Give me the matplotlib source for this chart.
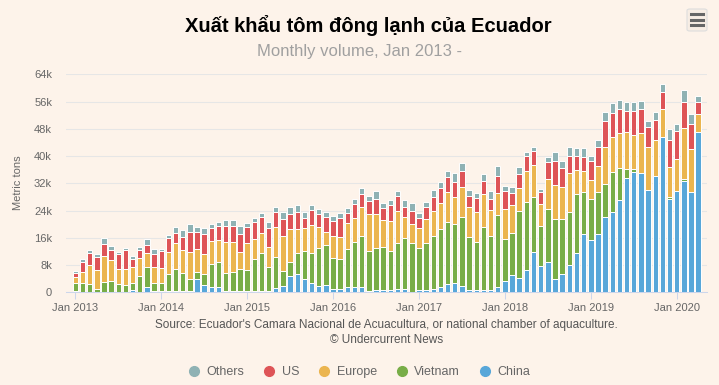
import matplotlib
matplotlib.use("Agg")
import matplotlib.pyplot as plt
from matplotlib.lines import Line2D
from matplotlib.patches import FancyBboxPatch
import numpy as np

plt.rcParams['font.family'] = ['Liberation Sans', 'DejaVu Sans']

# monthly volume, thousand metric tons, Jan 2013 .. Apr 2020
china = [0.4, 0.2, 0.2, 0.1, 0.2, 0.0, 0.0, 0.0, 0.6, 0.2, 1.7, 0.3,
         0.3, 0.3, 0.5, 0.3, 0.3, 4.0, 2.0, 1.6, 1.6, 0.3, 0.3, 0.3,
         0.3, 0.3, 0.3, 0.3, 1.2, 1.9, 4.7, 5.3, 4.0, 2.6, 1.8, 2.0,
         0.9, 0.9, 1.6, 1.6, 1.6, 0.3, 0.7, 0.7, 0.6, 0.9, 0.9, 0.2,
         0.8, 0.6, 0.9, 1.5, 2.3, 2.8, 1.9, 0.8, 0.8, 0.8, 0.8, 1.5,
         3.2, 5.0, 4.3, 6.5, 11.9, 7.6, 9.0, 3.8, 5.4, 7.9, 11.4, 17.2,
         15.3, 17.1, 22.0, 23.5, 27.2, 33.6, 35.4, 34.9, 30.1, 34.2, 45.5, 27.3,
         29.6, 32.6, 29.5, 47.0]
vietnam = [2.2, 2.4, 2.1, 0.8, 2.7, 3.4, 2.3, 2.0, 2.0, 4.6, 5.8, 2.5,
           2.5, 5.0, 6.4, 5.3, 3.5, 1.9, 3.3, 6.7, 7.2, 5.4, 5.6, 6.4,
           6.1, 9.6, 11.1, 7.1, 9.2, 4.3, 4.1, 6.1, 8.0, 9.0, 11.1, 11.9,
           9.3, 8.9, 11.0, 13.3, 14.8, 11.7, 12.2, 12.6, 11.6, 13.7, 15.1, 14.4,
           12.1, 14.0, 15.7, 17.2, 18.4, 17.2, 20.3, 15.5, 14.1, 18.3, 15.8, 21.1,
           12.4, 12.5, 19.7, 20.1, 16.0, 11.8, 15.4, 17.6, 16.2, 15.6, 17.4, 12.1,
           12.2, 12.3, 9.9, 11.9, 9.4, 2.5, 0.8, 0.0, 0.0, 0.0, 0.0, 0.7,
           0.0, 0.7, 0.0, 0.0]
europe = [1.8, 3.3, 5.7, 5.7, 7.7, 6.0, 4.5, 4.8, 4.9, 5.4, 4.1, 4.5,
          4.4, 6.6, 7.5, 6.7, 8.1, 6.7, 6.0, 6.8, 6.5, 9.2, 9.0, 5.0,
          8.0, 5.8, 6.1, 6.0, 8.9, 10.3, 9.7, 7.2, 6.8, 8.1, 6.2, 3.7,
          6.4, 6.4, 7.7, 6.8, 8.5, 10.9, 10.0, 8.0, 8.8, 9.3, 6.0, 5.4,
          5.9, 6.8, 7.3, 7.4, 8.7, 8.1, 8.8, 8.7, 8.6, 9.7, 7.6, 6.5,
          8.8, 8.0, 6.5, 8.9, 9.4, 6.6, 8.8, 10.0, 9.4, 11.4, 7.0, 6.2,
          5.6, 7.8, 10.7, 10.1, 10.1, 10.9, 9.9, 11.8, 12.5, 10.5, 8.4, 8.7,
          9.4, 14.8, 12.6, 5.3]
us = [1.4, 3.1, 3.4, 3.7, 3.7, 3.1, 4.5, 5.5, 2.3, 2.1, 2.4, 3.9,
      4.9, 3.9, 2.9, 3.9, 5.9, 5.1, 5.9, 3.9, 4.2, 4.7, 4.7, 5.4,
      4.7, 4.8, 4.5, 5.6, 4.2, 4.9, 4.4, 5.1, 2.9, 4.4, 3.8, 4.4,
      4.4, 5.5, 2.9, 4.1, 4.0, 3.9, 4.4, 3.4, 4.7, 4.5, 3.1, 4.0,
      3.1, 3.5, 4.2, 4.6, 4.4, 4.4, 4.7, 3.4, 4.1, 4.0, 3.1, 4.9,
      5.2, 3.6, 4.1, 4.4, 4.3, 3.4, 5.0, 7.1, 5.4, 5.1, 4.3, 4.3,
      5.5, 5.5, 7.6, 7.2, 7.2, 6.2, 7.0, 7.2, 5.8, 5.8, 5.0, 7.9,
      8.3, 7.9, 7.4, 3.5]
others = [0.5, 0.7, 0.9, 0.9, 1.6, 1.1, 0.5, 0.8, 1.0, 0.9, 1.5, 1.6,
          0.7, 1.0, 2.0, 2.0, 2.2, 1.4, 1.6, 1.0, 1.2, 1.5, 1.7, 2.3,
          1.3, 1.4, 1.4, 1.7, 1.4, 2.3, 2.2, 1.9, 1.8, 1.4, 1.5, 1.7,
          1.3, 1.5, 1.5, 1.5, 1.6, 1.4, 2.4, 1.6, 1.4, 1.4, 2.0, 2.3,
          1.3, 1.7, 1.9, 1.7, 1.9, 2.4, 2.4, 1.7, 1.5, 2.0, 2.3, 3.1,
          1.7, 1.9, 2.3, 1.4, 1.2, 1.0, 1.6, 2.6, 2.0, 2.8, 2.4, 2.7,
          1.5, 2.1, 2.8, 2.8, 2.7, 2.8, 2.7, 2.3, 2.0, 2.3, 2.3, 3.2,
          2.2, 3.5, 2.7, 1.7]

series_names = ['Others', 'US', 'Europe', 'Vietnam', 'China']
series_colors = {'Others': '#8fb2b4', 'US': '#de5457', 'Europe': '#ebb54f',
                 'Vietnam': '#78ad47', 'China': '#58a7d9'}
year_labels = ['Jan 2013', 'Jan 2014', 'Jan 2015', 'Jan 2016',
               'Jan 2017', 'Jan 2018', 'Jan 2019', 'Jan 2020']

bg = '#fdf3ea'
fig = plt.figure(figsize=(7.19, 3.85), dpi=100, facecolor=bg)
ax = fig.add_axes([0.0918, 0.2408, 0.8912, 0.5662])
ax.set_facecolor(bg)

x = np.arange(len(china))
bottom = np.zeros(len(china))
stack = [('China', china), ('Vietnam', vietnam), ('Europe', europe),
         ('US', us), ('Others', others)]
for name, vals in stack:
    vals = np.array(vals)
    ax.bar(x, vals, width=0.76, bottom=bottom, color=series_colors[name],
           edgecolor='white', linewidth=0.7, zorder=3)
    bottom += vals

ax.set_xlim(-1.3, 88.2)
ax.set_ylim(0, 64)
ax.set_yticks(np.arange(0, 65, 8))
ax.set_yticklabels(['0'] + [f'{v}k' for v in range(8, 65, 8)])
ax.set_xticks(np.arange(0, 85, 12))
ax.set_xticklabels(year_labels)
ax.grid(axis='y', color='#e6e6e6', linewidth=0.75, zorder=0)
ax.tick_params(axis='y', length=0, pad=10, labelsize=8, labelcolor='#666666')
ax.tick_params(axis='x', length=5, width=0.75, color='#ccd6eb', pad=3,
               labelsize=8, labelcolor='#666666')
for s in ['top', 'right', 'left']:
    ax.spines[s].set_visible(False)
ax.spines['bottom'].set_color('#ccd6eb')
ax.spines['bottom'].set_linewidth(0.75)

fig.text(0.025, 0.525, 'Metric tons', rotation=90, ha='center', va='center',
         fontsize=8, color='#666666')

fig.text(0.512, 0.935, 'Xuất khẩu tôm đông lạnh của Ecuador', ha='center',
         va='center', fontsize=14.5, fontweight='bold', color='#000000')
fig.text(0.5, 0.866, 'Monthly volume, Jan 2013 -', ha='center', va='center',
         fontsize=12, color='#a0a0a0')

fig.text(0.5375, 0.156, "Source: Ecuador's Camara Nacional de Acuacultura, "
         "or national chamber of aquaculture.", ha='center', va='center',
         fontsize=8.5, color='#555555')
fig.text(0.5375, 0.117, '© Undercurrent News', ha='center', va='center',
         fontsize=8.5, color='#555555')

handles = [Line2D([], [], marker='o', linestyle='none', markersize=7,
                  color=series_colors[n]) for n in series_names]
fig.legend(handles, series_names, loc='center', bbox_to_anchor=(0.5, 0.034),
           ncol=5, frameon=False, fontsize=9, labelcolor='#666666',
           handlelength=0.8, handletextpad=0.6, columnspacing=1.6)

# export menu button
btn = FancyBboxPatch((687 / 719, 1 - 31 / 385), 20 / 719, 22 / 385,
                     boxstyle='round,pad=0,rounding_size=0.004',
                     transform=fig.transFigure, facecolor='#f7ede4',
                     edgecolor='#dddddd', linewidth=0.8)
fig.add_artist(btn)
for py in (14, 19.5, 25):
    fig.add_artist(Line2D([691 / 719, 703 / 719], [1 - py / 385] * 2,
                          transform=fig.transFigure, color='#666666',
                          linewidth=2.2))

fig.savefig('out.png', dpi=100, facecolor=bg)
